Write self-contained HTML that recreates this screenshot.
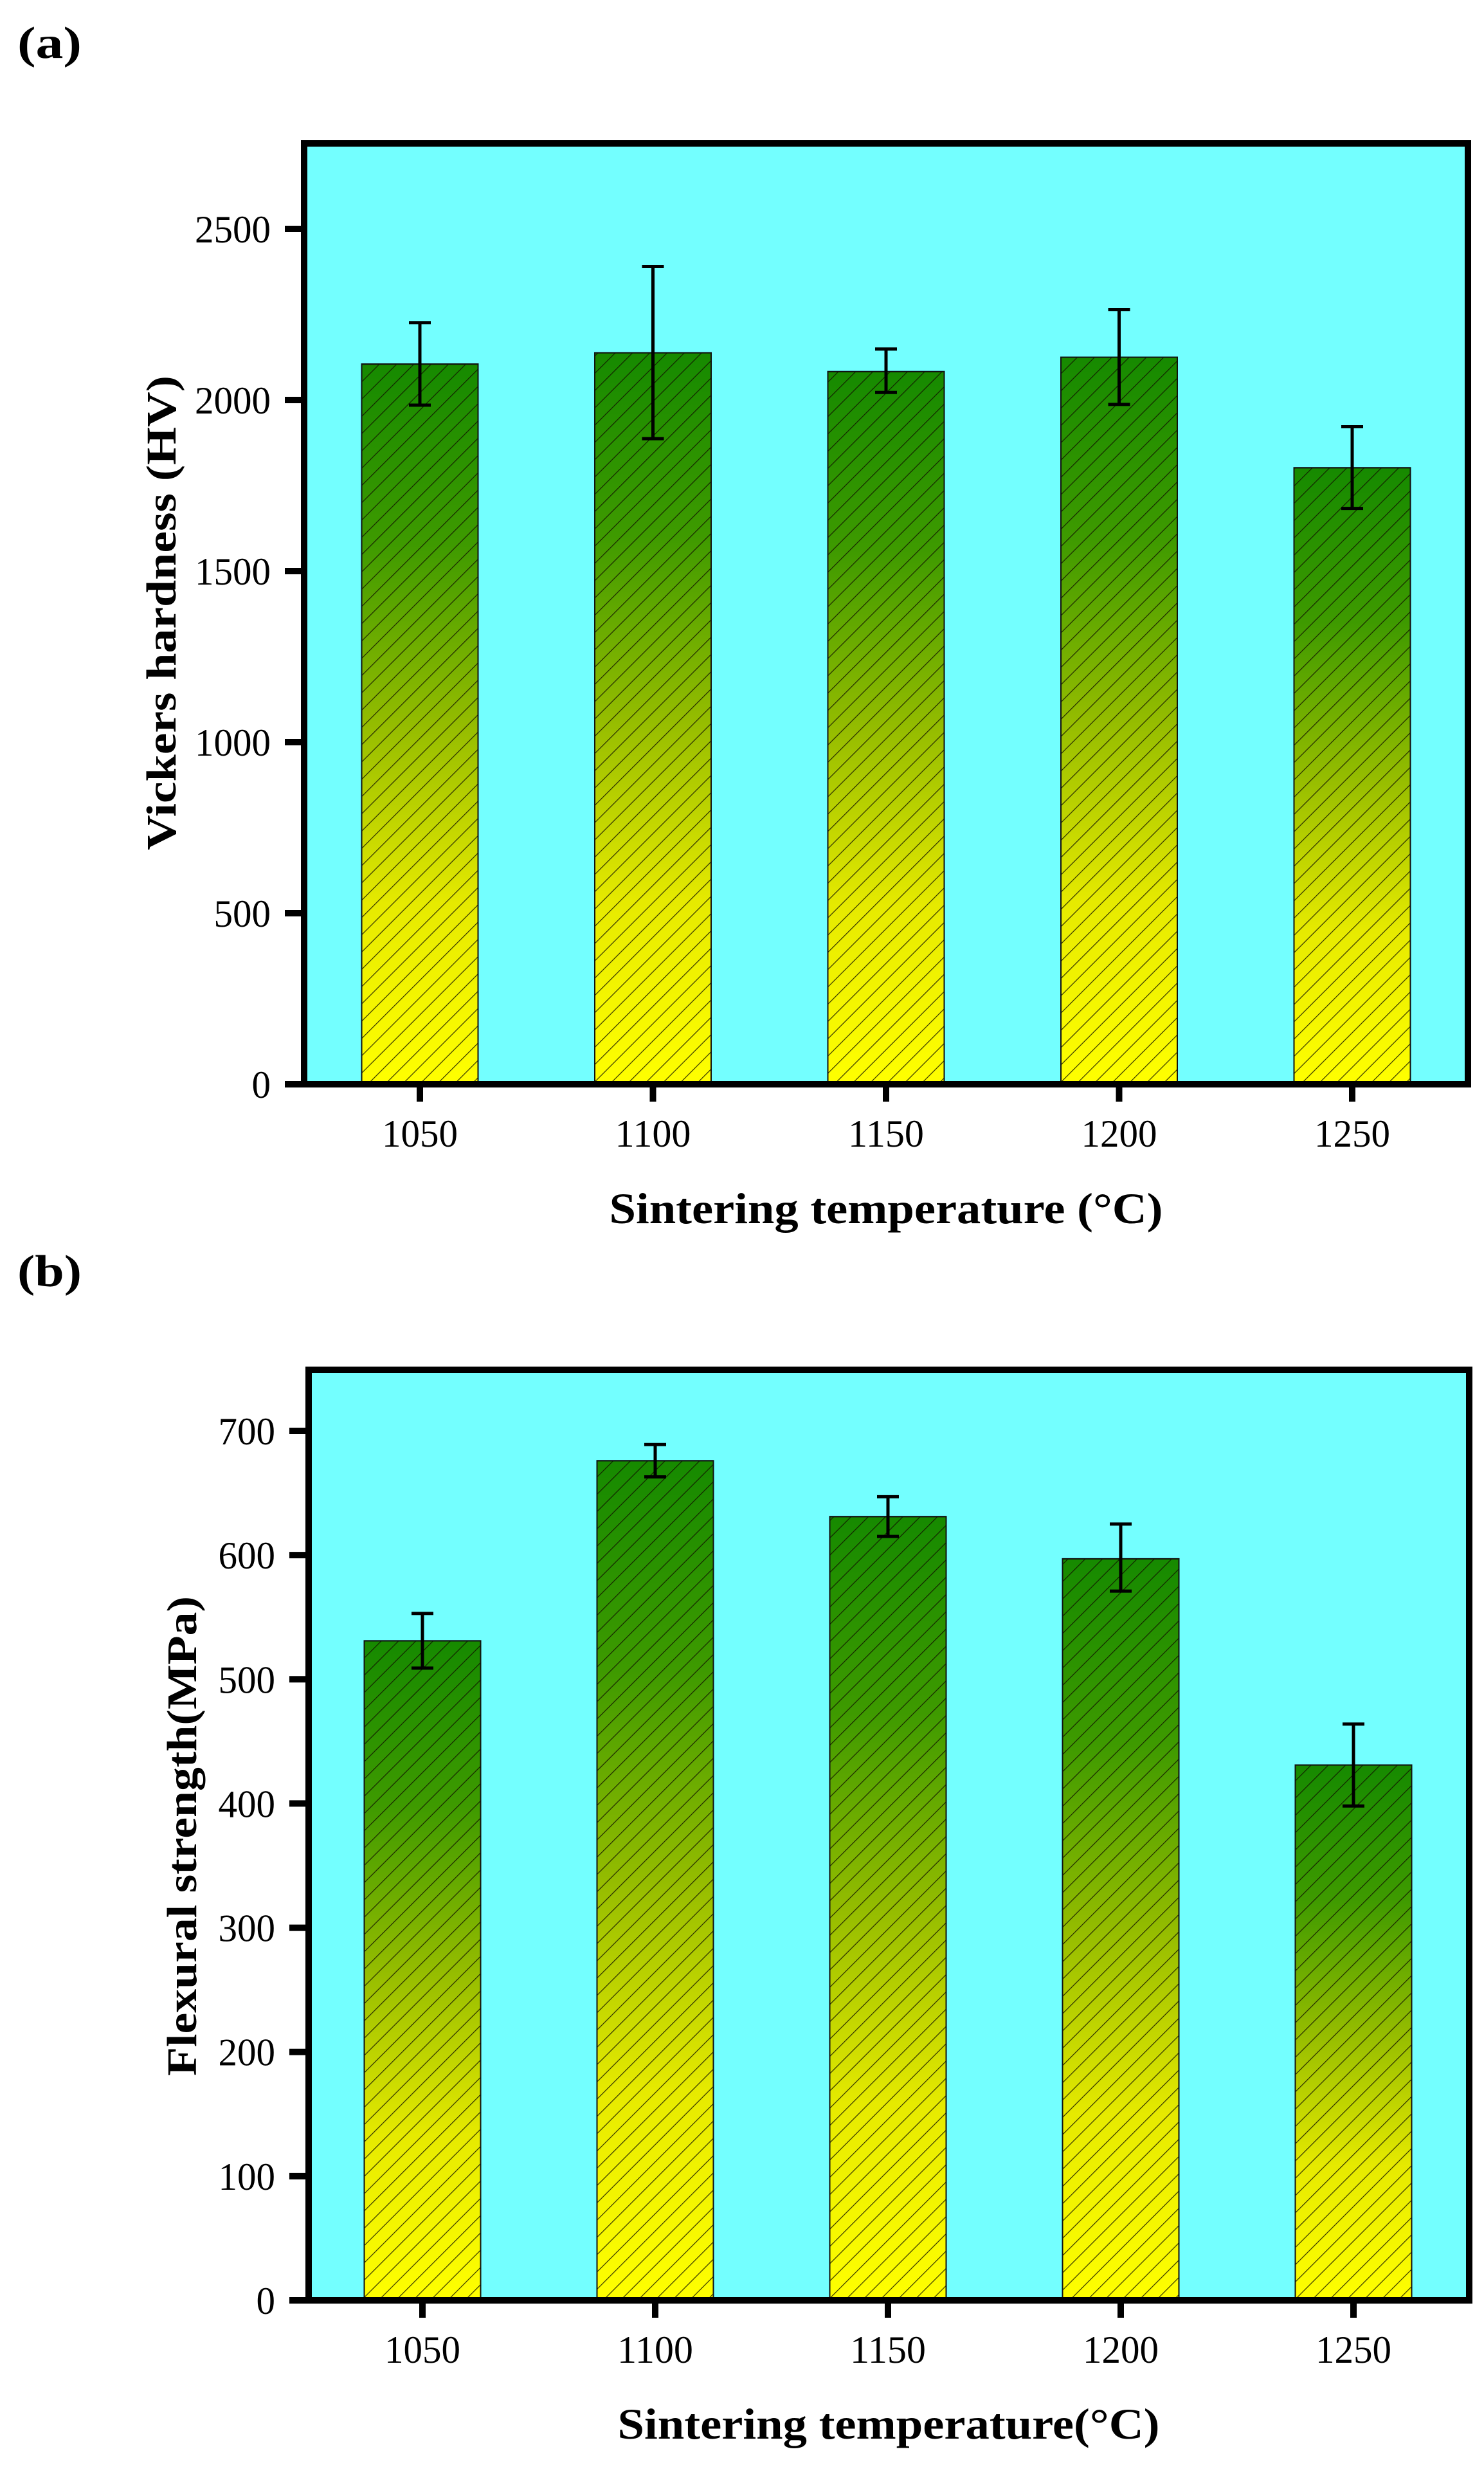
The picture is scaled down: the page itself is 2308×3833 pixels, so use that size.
<!DOCTYPE html>
<html><head><meta charset="utf-8"><title>Sintering temperature charts</title>
<style>html,body{margin:0;padding:0;background:#fff}svg{display:block}text{font-family:"Liberation Serif",serif;fill:#000}</style>
</head><body>
<svg id="fig" width="2308" height="3833" viewBox="0 0 2308 3833" xmlns="http://www.w3.org/2000/svg">
<defs>
<linearGradient id="barGrad" x1="0" y1="0" x2="0" y2="1">
<stop offset="0" stop-color="#168a00"/>
<stop offset="0.25" stop-color="#3e9a00"/>
<stop offset="0.5" stop-color="#94bc00"/>
<stop offset="0.75" stop-color="#e6ea00"/>
<stop offset="1" stop-color="#ffff00"/>
</linearGradient>
<pattern id="hatch" patternUnits="userSpaceOnUse" width="19" height="19" patternTransform="rotate(45)">
<line x1="0" y1="0" x2="0" y2="19" stroke="#111100" stroke-width="2.4" stroke-opacity="0.85"/>
</pattern>
</defs>
<g id="chartA"></g>
<g id="chartB"></g>
</svg>
<script>
const categories = ["1050", "1100", "1150", "1200", "1250"];
const hardnessValues = [2105, 2138, 2083, 2125, 1802];
const hardnessErrLow = [1985, 1887, 2022, 1987, 1683];
const hardnessErrHigh = [2226, 2390, 2149, 2264, 1922];
const hardnessTicks = [0, 500, 1000, 1500, 2000, 2500];
const strengthValues = [531, 676, 631, 597, 431];
const strengthErrLow = [509, 663, 615, 571, 398];
const strengthErrHigh = [553, 689, 647, 625, 464];
const strengthTicks = [0, 100, 200, 300, 400, 500, 600, 700];

const NS = "http://www.w3.org/2000/svg";
function mk(parent, tag, attrs, txt) {
  const e = document.createElementNS(NS, tag);
  for (const k in attrs) e.setAttribute(k, attrs[k]);
  if (txt !== undefined) e.textContent = txt;
  parent.appendChild(e);
  return e;
}

function drawChart(g, cfg) {
  const yScale = v => cfg.y0 - v * (cfg.y0 - cfg.yTopPx) / cfg.yTopVal;
  const xScale = i => cfg.x0 + cfg.step * i;

  const bg = mk(g, "rect", {x: cfg.left, y: cfg.top, width: cfg.right - cfg.left, height: cfg.y0 - cfg.top, fill: "#73ffff"});
  
  

  categories.forEach((c, i) => {
    const v = cfg.values[i];
    const x = xScale(i) - cfg.barW / 2;
    const yt = yScale(v);
    const bar = mk(g, "rect", {x: x, y: yt, width: cfg.barW, height: cfg.y0 - yt, fill: "url(#barGrad)", stroke: "#111", "stroke-width": 2});
    
    
    const h = mk(g, "rect", {x: x, y: yt, width: cfg.barW, height: cfg.y0 - yt, fill: "url(#hatch)", stroke: "#111", "stroke-width": 2});
    
    

    const cx = xScale(i);
    const eb = mk(g, "g", {stroke: "#000", "stroke-width": 5});
    
    
    mk(eb, "line", {x1: cx, x2: cx, y1: yScale(cfg.errHigh[i]), y2: yScale(cfg.errLow[i])});
    mk(eb, "line", {x1: cx - 17, x2: cx + 17, y1: yScale(cfg.errHigh[i]), y2: yScale(cfg.errHigh[i])});
    mk(eb, "line", {x1: cx - 17, x2: cx + 17, y1: yScale(cfg.errLow[i]), y2: yScale(cfg.errLow[i])});

    const t = mk(g, "line", {x1: cx, x2: cx, y1: cfg.y0, y2: cfg.y0 + 27, stroke: "#000", "stroke-width": 10});
    
    
    const lab = mk(g, "text", {x: cx, y: cfg.y0 + 97, "text-anchor": "middle", "font-size": 60, textLength: 118, lengthAdjust: "spacingAndGlyphs"}, c);
    
    
  });

  cfg.ticks.forEach(v => {
    const y = yScale(v);
    const t = mk(g, "line", {x1: cfg.left - 30, x2: cfg.left, y1: y, y2: y, stroke: "#000", "stroke-width": 10});
    
    
    const s = String(v);
    const lab = mk(g, "text", {x: cfg.left - 52, y: y + 21, "text-anchor": "end", "font-size": 60, textLength: 29.5 * s.length, lengthAdjust: "spacingAndGlyphs"}, s);
    
    
  });

  const fr = mk(g, "rect", {x: cfg.left, y: cfg.top, width: cfg.right - cfg.left, height: cfg.y0 - cfg.top, fill: "none", stroke: "#000", "stroke-width": 10});
  
  

  const yt = mk(g, "text", {x: 0, y: 0, "text-anchor": "middle", "font-size": 66, "font-weight": "bold", textLength: cfg.yLabelLen, lengthAdjust: "spacingAndGlyphs", transform: "translate(" + cfg.yLabelX + "," + cfg.yLabelY + ") rotate(-90)"}, cfg.yLabel);
  
  
  const xt = mk(g, "text", {x: cfg.xLabelX, y: cfg.xLabelY, "text-anchor": "middle", "font-size": 68, "font-weight": "bold", textLength: cfg.xLabelLen, lengthAdjust: "spacingAndGlyphs"}, cfg.xLabel);
  
  
  const pl = mk(g, "text", {x: 27, y: cfg.panelY, "font-size": 70, "font-weight": "bold", textLength: 100, lengthAdjust: "spacingAndGlyphs"}, cfg.panel);
  
  
}

drawChart(document.getElementById("chartA"), {
  left: 473, right: 2283, top: 223, y0: 1686, yTopPx: 356, yTopVal: 2500,
  x0: 653, step: 362.5, barW: 181,
  values: hardnessValues, errLow: hardnessErrLow, errHigh: hardnessErrHigh, ticks: hardnessTicks,
  yLabel: "Vickers hardness (HV)", yLabelX: 273, yLabelY: 953, yLabelLen: 738,
  xLabel: "Sintering temperature (°C)", xLabelX: 1378, xLabelY: 1902, xLabelLen: 861,
  panel: "(a)", panelY: 90
});
drawChart(document.getElementById("chartB"), {
  left: 480, right: 2285, top: 2130, y0: 3577, yTopPx: 2225, yTopVal: 700,
  x0: 657, step: 362, barW: 181,
  values: strengthValues, errLow: strengthErrLow, errHigh: strengthErrHigh, ticks: strengthTicks,
  yLabel: "Flexural strength(MPa)", yLabelX: 305, yLabelY: 2855, yLabelLen: 746,
  xLabel: "Sintering temperature(°C)", xLabelX: 1382, xLabelY: 3792, xLabelLen: 843,
  panel: "(b)", panelY: 2000
});
</script>
</body></html>
